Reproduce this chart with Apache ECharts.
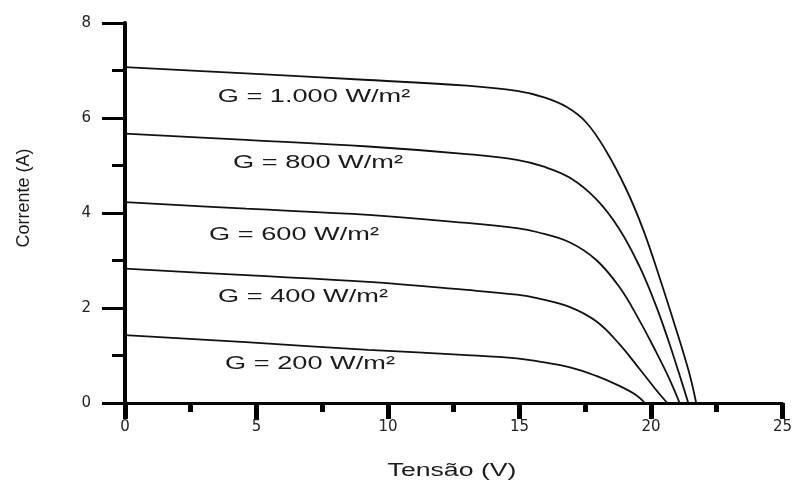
<!DOCTYPE html>
<html>
<head>
<meta charset="utf-8">
<script src="https://cdn.jsdelivr.net/npm/echarts@6/dist/echarts.min.js"></script>
<style>
html,body{margin:0;padding:0;background:#fff;}
#chart{width:795px;height:484px;}
</style>
</head>
<body>
<div id="chart"></div>
<script>
// Data (Tensão V, Corrente A)
var volt1000 = [0, 4.6, 9.25, 13.0, 14.9, 15.9, 16.8, 17.55, 18.3, 19.06, 19.69, 20.31, 20.94, 21.45, 21.72];
var curr1000 = [7.07, 6.94, 6.80, 6.68, 6.57, 6.44, 6.23, 5.90, 5.30, 4.50, 3.67, 2.67, 1.58, 0.64, 0];
var volt800 = [0, 4.6, 9.25, 13.0, 14.9, 15.9, 16.92, 17.92, 18.8, 19.56, 20.19, 20.69, 21.07, 21.42];
var curr800 = [5.67, 5.54, 5.40, 5.24, 5.12, 4.98, 4.74, 4.29, 3.66, 2.88, 2.05, 1.27, 0.62, 0];
var volt600 = [0, 4.6, 9.25, 13.0, 14.9, 15.66, 16.92, 17.92, 18.8, 19.56, 20.19, 20.69, 21.09];
var curr600 = [4.23, 4.09, 3.96, 3.79, 3.68, 3.60, 3.38, 3.01, 2.44, 1.74, 1.08, 0.52, 0];
var volt400 = [0, 4.6, 9.25, 13.0, 14.9, 15.66, 16.92, 17.92, 18.8, 19.56, 20.19, 20.62];
var curr400 = [2.83, 2.69, 2.55, 2.38, 2.28, 2.21, 2.02, 1.72, 1.24, 0.72, 0.28, 0];
var volt200 = [0, 4.6, 9.25, 13.0, 14.9, 15.66, 16.92, 17.92, 18.8, 19.43, 19.77];
var curr200 = [1.43, 1.28, 1.12, 1.01, 0.94, 0.88, 0.75, 0.57, 0.36, 0.17, 0];
var seriesNames = ['G = 1.000 W/m²', 'G = 800 W/m²', 'G = 600 W/m²', 'G = 400 W/m²', 'G = 200 W/m²'];
var xTicks = [0, 5, 10, 15, 20, 25];
var yTicks = [0, 2, 4, 6, 8];
var xTitle = 'Tensão (V)';
var yTitle = 'Corrente (A)';

function pairs(xs, ys) { return xs.map(function (x, i) { return [x, ys[i]]; }); }
var allData = [
  pairs(volt1000, curr1000),
  pairs(volt800, curr800),
  pairs(volt600, curr600),
  pairs(volt400, curr400),
  pairs(volt200, curr200)
];

var labelPos = [[314, 97], [318, 163], [294, 235], [303, 297], [310, 364]];

var chart = echarts.init(document.getElementById('chart'), null, { renderer: 'canvas' });

var series = allData.map(function (d, i) {
  return {
    type: 'line',
    name: seriesNames[i],
    data: d,
    smooth: 0.4,
    symbol: 'none',
    lineStyle: { color: '#111', width: 1.8 },
    silent: true
  };
});

var graphics = seriesNames.map(function (t, i) {
  return {
    type: 'text',
    x: labelPos[i][0],
    y: labelPos[i][1],
    scaleX: 1.43,
    style: {
      text: t,
      font: '19px "Liberation Sans", Arial, sans-serif',
      fill: '#1b1b1b',
      textAlign: 'center',
      textVerticalAlign: 'middle'
    }
  };
});
graphics.push({
  type: 'text', x: 452, y: 471, scaleX: 1.48,
  style: { text: xTitle, font: '18px "Liberation Sans", Arial, sans-serif', fill: '#1b1b1b', textAlign: 'center', textVerticalAlign: 'middle' }
});
graphics.push({
  type: 'text', x: 24, y: 198, rotation: Math.PI / 2,
  style: { text: yTitle, font: '18px "Liberation Sans", Arial, sans-serif', fill: '#1b1b1b', textAlign: 'center', textVerticalAlign: 'middle' }
});

chart.setOption({
  backgroundColor: '#fff',
  animation: false,
  grid: { left: 125, right: 7, top: 23, bottom: 81, containLabel: false },
  xAxis: {
    type: 'value', min: xTicks[0], max: xTicks[xTicks.length - 1], interval: 5,
    axisLine: { show: true, lineStyle: { color: '#000', width: 3 } },
    axisTick: { show: true, length: 16, lineStyle: { color: '#000', width: 5 } },
    minorTick: { show: true, splitNumber: 2, length: 9, lineStyle: { color: '#000', width: 5 } },
    splitLine: { show: false },
    axisLabel: { margin: 17, color: '#222', fontFamily: 'DejaVu Sans', fontSize: 15 }
  },
  yAxis: {
    type: 'value', min: yTicks[0], max: yTicks[yTicks.length - 1], interval: 2,
    axisLine: { show: true, lineStyle: { color: '#000', width: 4 } },
    axisTick: { show: true, length: 23, lineStyle: { color: '#000', width: 3 } },
    minorTick: { show: true, splitNumber: 2, length: 13, lineStyle: { color: '#000', width: 3 } },
    splitLine: { show: false },
    axisLabel: { margin: 34, color: '#222', fontFamily: 'DejaVu Sans', fontSize: 15 }
  },
  series: series,
  graphic: graphics
});
</script>
</body>
</html>
